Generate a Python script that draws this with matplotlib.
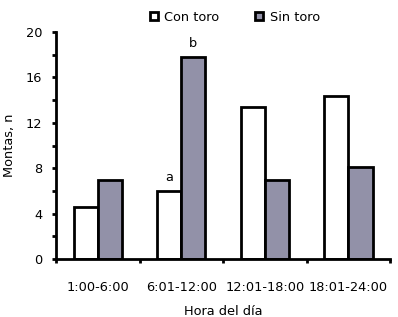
import matplotlib
matplotlib.use("Agg")
import matplotlib.pyplot as plt
import numpy as np
from matplotlib.ticker import MultipleLocator

categories = ["1:00-6:00", "6:01-12:00", "12:01-18:00", "18:01-24:00"]
con_toro = [4.6, 6.0, 13.4, 14.4]
sin_toro = [7.0, 17.8, 7.0, 8.1]
labels_con = ["", "a", "", ""]
labels_sin = ["", "b", "", ""]

fs = 9.3
fig = plt.figure(figsize=(3.98, 3.17), dpi=100)
ax = fig.add_axes([0.1407, 0.183, 0.8393, 0.716])

x = np.arange(len(categories))
w = 0.29
b1 = ax.bar(x - w/2, con_toro, w, color="white", edgecolor="black", linewidth=2.0, label="Con toro")
b2 = ax.bar(x + w/2, sin_toro, w, color="#9291a8", edgecolor="black", linewidth=2.0, label="Sin toro")

for xi, v, t in zip(x - w/2, con_toro, labels_con):
    if t:
        ax.text(xi, v + 0.6, t, ha="center", va="bottom", fontsize=fs)
for xi, v, t in zip(x + w/2, sin_toro, labels_sin):
    if t:
        ax.text(xi, v + 0.6, t, ha="center", va="bottom", fontsize=fs)

ax.set_xlim(-0.5, len(categories) - 0.5)
ax.set_ylim(0, 20)
ax.set_xticks(x)
ax.set_xticklabels(categories, fontsize=fs)
ax.set_xticks(np.arange(len(categories) + 1) - 0.5, minor=True)
ax.tick_params(axis="x", which="major", length=0, pad=16)
ax.tick_params(axis="x", which="minor", length=3, width=2, direction="out")
ax.yaxis.set_major_locator(MultipleLocator(4))
ax.yaxis.set_minor_locator(MultipleLocator(2))
ax.tick_params(axis="y", which="major", length=3, width=2, labelsize=fs, direction="out", pad=7)
ax.tick_params(axis="y", which="minor", length=3, width=2, direction="out")
for s in ["top", "right"]:
    ax.spines[s].set_visible(False)
for s in ["left", "bottom"]:
    ax.spines[s].set_linewidth(2)

ax.set_ylabel("Montas, n", fontsize=fs, labelpad=7)
ax.set_xlabel("Hora del día", fontsize=fs, labelpad=8)

fig.legend(handles=[b1, b2], loc="center", bbox_to_anchor=(0.59, 0.945), ncol=2,
           frameon=False, fontsize=fs, handlelength=0.6, handleheight=0.6,
           columnspacing=2.8, handletextpad=0.5)

fig.savefig("out.png", dpi=100)
